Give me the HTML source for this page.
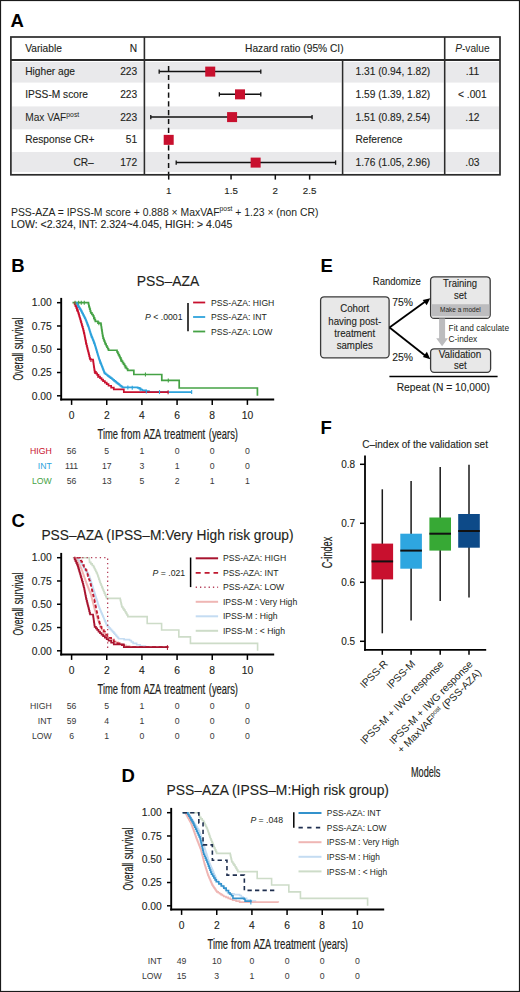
<!DOCTYPE html>
<html><head><meta charset="utf-8"><style>
html,body{margin:0;padding:0;background:#fff;}
svg{display:block;font-family:'Liberation Sans', sans-serif;}
text{paint-order:stroke;}
</style></head><body>
<svg width="520" height="992" viewBox="0 0 520 992">
<rect x="0" y="0" width="520" height="992" fill="#fff"/>
<text x="10.60" y="26.90" font-size="18.5" text-anchor="start" fill="#000" font-weight="bold" >A</text>
<rect x="11.90" y="62.00" width="131.50" height="20.60" fill="#e9e9eb" />
<rect x="145.30" y="62.00" width="196.10" height="20.60" fill="#e9e9eb" />
<rect x="343.80" y="62.00" width="100.00" height="20.60" fill="#e9e9eb" />
<rect x="445.70" y="62.00" width="53.30" height="20.60" fill="#e9e9eb" />
<rect x="11.90" y="106.40" width="131.50" height="22.90" fill="#e9e9eb" />
<rect x="145.30" y="106.40" width="196.10" height="22.90" fill="#e9e9eb" />
<rect x="343.80" y="106.40" width="100.00" height="22.90" fill="#e9e9eb" />
<rect x="445.70" y="106.40" width="53.30" height="22.90" fill="#e9e9eb" />
<rect x="11.90" y="152.00" width="131.50" height="20.00" fill="#e9e9eb" />
<rect x="145.30" y="152.00" width="196.10" height="20.00" fill="#e9e9eb" />
<rect x="343.80" y="152.00" width="100.00" height="20.00" fill="#e9e9eb" />
<rect x="445.70" y="152.00" width="53.30" height="20.00" fill="#e9e9eb" />
<rect x="10.9" y="37.0" width="489.1" height="137.8" fill="none" stroke="#2b2b2b" stroke-width="1.7"/>
<line x1="10.90" y1="60.00" x2="500.00" y2="60.00" stroke="#2b2b2b" stroke-width="1.9" />
<line x1="144.40" y1="37.00" x2="144.40" y2="174.80" stroke="#2b2b2b" stroke-width="1.6" />
<line x1="444.70" y1="37.00" x2="444.70" y2="174.80" stroke="#2b2b2b" stroke-width="1.6" />
<line x1="342.60" y1="60.00" x2="342.60" y2="174.80" stroke="#2b2b2b" stroke-width="1.6" />
<text x="25.20" y="51.60" font-size="10.2" text-anchor="start" fill="#231f20" stroke="#231f20" stroke-width="0.12" >Variable</text>
<text x="137.20" y="51.60" font-size="10.2" text-anchor="end" fill="#231f20" stroke="#231f20" stroke-width="0.12" >N</text>
<text x="294.30" y="51.60" font-size="10.2" text-anchor="middle" fill="#231f20" stroke="#231f20" stroke-width="0.12" >Hazard ratio (95% CI)</text>
<text x="472.4" y="51.6" font-size="10.2" text-anchor="middle" fill="#231f20"><tspan font-style="italic">P</tspan>-value</text>
<line x1="168.60" y1="66.10" x2="168.60" y2="174.00" stroke="#111" stroke-width="1.5" stroke-dasharray="5.2 3.6"/>
<text x="25.20" y="75.20" font-size="10.2" text-anchor="start" fill="#231f20" stroke="#231f20" stroke-width="0.12" >Higher age</text>
<text x="137.20" y="75.20" font-size="10.2" text-anchor="end" fill="#231f20" stroke="#231f20" stroke-width="0.12" >223</text>
<text x="355.50" y="75.20" font-size="10.2" text-anchor="start" fill="#231f20" stroke="#231f20" stroke-width="0.12" >1.31 (0.94, 1.82)</text>
<text x="472.40" y="75.20" font-size="10.2" text-anchor="middle" fill="#231f20" stroke="#231f20" stroke-width="0.12" >.11</text>
<line x1="159.18" y1="71.60" x2="260.80" y2="71.60" stroke="#111" stroke-width="1.5" />
<line x1="159.18" y1="69.40" x2="159.18" y2="73.80" stroke="#111" stroke-width="1.3" />
<line x1="260.80" y1="69.40" x2="260.80" y2="73.80" stroke="#111" stroke-width="1.3" />
<rect x="205.23" y="66.60" width="10.00" height="10.00" fill="#c8102e" />
<text x="25.20" y="97.95" font-size="10.2" text-anchor="start" fill="#231f20" stroke="#231f20" stroke-width="0.12" >IPSS-M score</text>
<text x="137.20" y="97.95" font-size="10.2" text-anchor="end" fill="#231f20" stroke="#231f20" stroke-width="0.12" >223</text>
<text x="355.50" y="97.95" font-size="10.2" text-anchor="start" fill="#231f20" stroke="#231f20" stroke-width="0.12" >1.59 (1.39, 1.82)</text>
<text x="472.40" y="97.95" font-size="10.2" text-anchor="middle" fill="#231f20" stroke="#231f20" stroke-width="0.12" >&lt; .001</text>
<line x1="219.35" y1="94.35" x2="260.80" y2="94.35" stroke="#111" stroke-width="1.5" />
<line x1="219.35" y1="92.15" x2="219.35" y2="96.55" stroke="#111" stroke-width="1.3" />
<line x1="260.80" y1="92.15" x2="260.80" y2="96.55" stroke="#111" stroke-width="1.3" />
<rect x="235.02" y="89.35" width="10.00" height="10.00" fill="#c8102e" />
<text x="25.2" y="120.70" font-size="10.2" fill="#231f20">Max VAF<tspan font-size="6.8" dy="-4.2">post</tspan></text>
<text x="137.20" y="120.70" font-size="10.2" text-anchor="end" fill="#231f20" stroke="#231f20" stroke-width="0.12" >223</text>
<text x="355.50" y="120.70" font-size="10.2" text-anchor="start" fill="#231f20" stroke="#231f20" stroke-width="0.12" >1.51 (0.89, 2.54)</text>
<text x="472.40" y="120.70" font-size="10.2" text-anchor="middle" fill="#231f20" stroke="#231f20" stroke-width="0.12" >.12</text>
<line x1="150.78" y1="117.10" x2="312.07" y2="117.10" stroke="#111" stroke-width="1.5" />
<line x1="150.78" y1="114.90" x2="150.78" y2="119.30" stroke="#111" stroke-width="1.3" />
<line x1="312.07" y1="114.90" x2="312.07" y2="119.30" stroke="#111" stroke-width="1.3" />
<rect x="227.08" y="112.10" width="10.00" height="10.00" fill="#c8102e" />
<text x="25.20" y="143.45" font-size="10.2" text-anchor="start" fill="#231f20" stroke="#231f20" stroke-width="0.12" >Response CR+</text>
<text x="137.20" y="143.45" font-size="10.2" text-anchor="end" fill="#231f20" stroke="#231f20" stroke-width="0.12" >51</text>
<text x="355.50" y="143.45" font-size="10.2" text-anchor="start" fill="#231f20" stroke="#231f20" stroke-width="0.12" >Reference</text>
<rect x="163.70" y="134.85" width="10.00" height="10.00" fill="#c8102e" />
<text x="93.80" y="166.20" font-size="10.2" text-anchor="end" fill="#231f20" stroke="#231f20" stroke-width="0.12" >CR–</text>
<text x="137.20" y="166.20" font-size="10.2" text-anchor="end" fill="#231f20" stroke="#231f20" stroke-width="0.12" >172</text>
<text x="355.50" y="166.20" font-size="10.2" text-anchor="start" fill="#231f20" stroke="#231f20" stroke-width="0.12" >1.76 (1.05, 2.96)</text>
<text x="472.40" y="166.20" font-size="10.2" text-anchor="middle" fill="#231f20" stroke="#231f20" stroke-width="0.12" >.03</text>
<line x1="176.20" y1="162.60" x2="335.60" y2="162.60" stroke="#111" stroke-width="1.5" />
<line x1="176.20" y1="160.40" x2="176.20" y2="164.80" stroke="#111" stroke-width="1.3" />
<line x1="335.60" y1="160.40" x2="335.60" y2="164.80" stroke="#111" stroke-width="1.3" />
<rect x="250.65" y="157.60" width="10.00" height="10.00" fill="#c8102e" />
<line x1="168.70" y1="174.80" x2="168.70" y2="179.60" stroke="#111" stroke-width="1.5" />
<text x="168.70" y="193.80" font-size="9.8" text-anchor="middle" fill="#231f20" stroke="#231f20" stroke-width="0.12" >1</text>
<line x1="231.06" y1="174.80" x2="231.06" y2="179.60" stroke="#111" stroke-width="1.5" />
<text x="231.06" y="193.80" font-size="9.8" text-anchor="middle" fill="#231f20" stroke="#231f20" stroke-width="0.12" >1.5</text>
<line x1="275.31" y1="174.80" x2="275.31" y2="179.60" stroke="#111" stroke-width="1.5" />
<text x="275.31" y="193.80" font-size="9.8" text-anchor="middle" fill="#231f20" stroke="#231f20" stroke-width="0.12" >2</text>
<line x1="309.63" y1="174.80" x2="309.63" y2="179.60" stroke="#111" stroke-width="1.5" />
<text x="309.63" y="193.80" font-size="9.8" text-anchor="middle" fill="#231f20" stroke="#231f20" stroke-width="0.12" >2.5</text>
<text x="11.0" y="215.5" font-size="10.4" fill="#231f20">PSS-AZA = IPSS-M score + 0.888 × MaxVAF<tspan font-size="6.8" dy="-4.2">post</tspan><tspan dy="4.2"> + 1.23 × (non CR)</tspan></text>
<text x="11.00" y="228.10" font-size="10.5" text-anchor="start" fill="#231f20" stroke="#231f20" stroke-width="0.12" >LOW: &lt;2.324, INT: 2.324~4.045, HIGH: &gt; 4.045</text>
<text x="11.20" y="271.60" font-size="18.5" text-anchor="start" fill="#000" font-weight="bold" >B</text>
<text x="168.10" y="285.80" font-size="13.9" text-anchor="middle" fill="#231f20" stroke="#231f20" stroke-width="0.12" >PSS–AZA</text>
<line x1="61.20" y1="297.90" x2="61.20" y2="400.40" stroke="#000" stroke-width="1.9" />
<line x1="60.25" y1="399.50" x2="274.20" y2="399.50" stroke="#000" stroke-width="1.9" />
<line x1="57.00" y1="395.80" x2="61.20" y2="395.80" stroke="#000" stroke-width="1.5" />
<text x="51.80" y="399.50" font-size="10.3" text-anchor="end" fill="#231f20" stroke="#231f20" stroke-width="0.12" >0.00</text>
<line x1="57.00" y1="372.53" x2="61.20" y2="372.53" stroke="#000" stroke-width="1.5" />
<text x="51.80" y="376.23" font-size="10.3" text-anchor="end" fill="#231f20" stroke="#231f20" stroke-width="0.12" >0.25</text>
<line x1="57.00" y1="349.25" x2="61.20" y2="349.25" stroke="#000" stroke-width="1.5" />
<text x="51.80" y="352.95" font-size="10.3" text-anchor="end" fill="#231f20" stroke="#231f20" stroke-width="0.12" >0.50</text>
<line x1="57.00" y1="325.98" x2="61.20" y2="325.98" stroke="#000" stroke-width="1.5" />
<text x="51.80" y="329.68" font-size="10.3" text-anchor="end" fill="#231f20" stroke="#231f20" stroke-width="0.12" >0.75</text>
<line x1="57.00" y1="302.70" x2="61.20" y2="302.70" stroke="#000" stroke-width="1.5" />
<text x="51.80" y="306.40" font-size="10.3" text-anchor="end" fill="#231f20" stroke="#231f20" stroke-width="0.12" >1.00</text>
<line x1="71.60" y1="399.50" x2="71.60" y2="404.90" stroke="#000" stroke-width="1.5" />
<text x="71.60" y="419.40" font-size="10.3" text-anchor="middle" fill="#231f20" stroke="#231f20" stroke-width="0.12" >0</text>
<line x1="106.76" y1="399.50" x2="106.76" y2="404.90" stroke="#000" stroke-width="1.5" />
<text x="106.76" y="419.40" font-size="10.3" text-anchor="middle" fill="#231f20" stroke="#231f20" stroke-width="0.12" >2</text>
<line x1="141.92" y1="399.50" x2="141.92" y2="404.90" stroke="#000" stroke-width="1.5" />
<text x="141.92" y="419.40" font-size="10.3" text-anchor="middle" fill="#231f20" stroke="#231f20" stroke-width="0.12" >4</text>
<line x1="177.08" y1="399.50" x2="177.08" y2="404.90" stroke="#000" stroke-width="1.5" />
<text x="177.08" y="419.40" font-size="10.3" text-anchor="middle" fill="#231f20" stroke="#231f20" stroke-width="0.12" >6</text>
<line x1="212.24" y1="399.50" x2="212.24" y2="404.90" stroke="#000" stroke-width="1.5" />
<text x="212.24" y="419.40" font-size="10.3" text-anchor="middle" fill="#231f20" stroke="#231f20" stroke-width="0.12" >8</text>
<line x1="247.40" y1="399.50" x2="247.40" y2="404.90" stroke="#000" stroke-width="1.5" />
<text x="247.40" y="419.40" font-size="10.3" text-anchor="middle" fill="#231f20" stroke="#231f20" stroke-width="0.12" >10</text>
<text x="97.50" y="438.90" font-size="13.8" fill="#231f20" textLength="20.50" lengthAdjust="spacingAndGlyphs" stroke="#231f20" stroke-width="0.2">Time</text>
<text x="121.00" y="438.90" font-size="13.8" fill="#231f20" textLength="19.60" lengthAdjust="spacingAndGlyphs" stroke="#231f20" stroke-width="0.2">from</text>
<text x="143.40" y="438.90" font-size="13.8" fill="#231f20" textLength="17.70" lengthAdjust="spacingAndGlyphs" stroke="#231f20" stroke-width="0.2">AZA</text>
<text x="164.10" y="438.90" font-size="13.8" fill="#231f20" textLength="41.20" lengthAdjust="spacingAndGlyphs" stroke="#231f20" stroke-width="0.2">treatment</text>
<text x="208.80" y="438.90" font-size="13.8" fill="#231f20" textLength="29.20" lengthAdjust="spacingAndGlyphs" stroke="#231f20" stroke-width="0.2">(years)</text>
<text transform="translate(23.00,380.50) rotate(-90)" x="0" y="0" font-size="13.8" fill="#231f20" textLength="27.80" lengthAdjust="spacingAndGlyphs" stroke="#231f20" stroke-width="0.2">Overall</text>
<text transform="translate(23.00,349.40) rotate(-90)" x="0" y="0" font-size="13.8" fill="#231f20" textLength="32.00" lengthAdjust="spacingAndGlyphs" stroke="#231f20" stroke-width="0.2">survival</text>
<path d="M72.48,302.70H88.13H88.48V304.25H88.83V305.80H89.18V307.36H89.71V309.22H90.23V311.08H90.76V312.94H91.90V314.48H93.05V316.01H93.81V317.78H94.57V319.55H95.33V321.32H97.97V323.18H100.78V323.65H101.02V325.20H101.25V326.75H101.49V328.30H101.73V329.89H101.98V331.47H102.22V333.05H102.47V334.63H102.72V336.22H103.07V338.08H103.64V339.61H104.21V341.15H104.78V342.69H105.35V344.22H106.14V345.74H106.94V347.25H107.73V348.76H108.52V350.27H116.25H117.01V351.79H117.78V353.32H118.54V354.84H119.29V356.40H120.03V357.95H120.78V359.51H121.53V361.07H122.52V362.63H123.52V364.18H124.52V365.73H125.57V367.25H126.63V368.77H127.68V370.29H133.83V374.48H161.79V380.44H179.19V387.98H257.42V395.80" fill="none" stroke="#45a245" stroke-width="1.7" stroke-linejoin="miter" />
<path d="M76.17,302.70H76.70V303.58H77.23V304.45H77.75V305.33H78.28V306.20H78.81V307.08H79.34V307.95H79.86V308.83H80.39V309.70H80.92V310.58H81.44V311.45H81.87V312.29H82.30V313.13H82.73V313.97H83.16V314.80H83.59V315.64H84.02V316.48H84.45V317.32H84.88V318.15H85.31V318.99H85.66V319.87H86.02V320.75H86.37V321.63H86.72V322.51H87.07V323.39H87.42V324.27H87.77V325.15H88.13V326.03H88.48V326.91H88.73V327.73H88.98V328.56H89.24V329.39H89.49V330.22H89.75V331.04H90.00V331.87H90.25V332.70H90.51V333.53H90.76V334.35H91.08V335.18H91.41V336.00H91.73V336.82H92.05V337.64H92.37V338.47H92.70V339.29H93.02V340.11H93.34V340.93H93.66V341.76H93.99V342.58H94.31V343.40H94.63V344.22H94.88V345.07H95.14V345.92H95.39V346.77H95.65V347.62H95.90V348.46H96.15V349.31H96.41V350.16H96.66V351.01H96.92V351.86H97.17V352.71H97.42V353.55H97.68V354.40H97.93V355.25H98.18V356.10H98.44V356.95H98.69V357.79H98.95V358.64H99.20V359.49H99.52V360.31H99.84V361.13H100.16V361.96H100.48V362.78H100.80V363.60H101.12V364.42H101.44V365.24H101.77V366.06H102.09V366.88H102.41V367.71H102.73V368.53H103.05V369.35H103.37V370.17H103.69V370.99H104.01V371.81H104.33V372.63H104.65V373.46H105.68V374.23H106.70V375.01H107.73V375.78H108.75V376.56H109.78V377.34H110.80V378.11H111.89V379.00H112.98V379.90H114.07V380.79H115.16V381.69H116.25V382.58H117.28V383.39H118.30V384.19H119.33V385.00H120.36V385.81H121.38V386.61H122.41V387.42H137.70V387.89H139.22V388.69H140.75V389.50H142.27V390.31H145.61V391.19H148.95V392.08H191.85" fill="none" stroke="#2ea3dc" stroke-width="1.7" stroke-linejoin="miter" />
<path d="M73.89,302.70H74.66V304.45H75.43V306.20H76.21V307.95H76.98V309.70H77.75V311.45H78.21V312.96H78.67V314.47H79.12V315.98H79.58V317.48H80.04V318.99H80.50V320.58H80.95V322.16H81.41V323.74H81.87V325.32H82.32V326.91H82.81V328.77H83.29V330.63H83.77V332.49H84.26V334.35H84.58V336.00H84.90V337.64H85.22V339.29H85.55V340.93H85.87V342.58H86.19V344.22H86.62V345.92H87.05V347.62H87.48V349.31H87.91V351.01H88.34V352.71H88.77V354.40H89.20V356.10H89.63V357.79H90.06V359.49H93.05V360.89H93.27V362.44H93.50V364.00H93.73V365.56H93.95V367.11H94.18V368.67H94.40V370.22H94.63V371.78H95.92V373.36H97.21V374.95H98.50V376.53H100.02V378.05H101.54V379.57H103.07V381.09H104.88V382.64H106.70V384.19H108.52V385.75H111.15V387.61H113.79V389.47H123.81V392.17H168.29" fill="none" stroke="#c8102e" stroke-width="1.7" stroke-linejoin="miter" />
<line x1="75.12" y1="300.70" x2="75.12" y2="304.70" stroke="#45a245" stroke-width="1.1" />
<line x1="78.63" y1="300.70" x2="78.63" y2="304.70" stroke="#45a245" stroke-width="1.1" />
<line x1="81.27" y1="300.70" x2="81.27" y2="304.70" stroke="#45a245" stroke-width="1.1" />
<line x1="84.26" y1="300.70" x2="84.26" y2="304.70" stroke="#45a245" stroke-width="1.1" />
<line x1="93.57" y1="315.24" x2="93.57" y2="319.24" stroke="#45a245" stroke-width="1.1" />
<line x1="98.85" y1="321.33" x2="98.85" y2="325.33" stroke="#45a245" stroke-width="1.1" />
<line x1="120.82" y1="357.61" x2="120.82" y2="361.61" stroke="#45a245" stroke-width="1.1" />
<line x1="125.22" y1="364.74" x2="125.22" y2="368.74" stroke="#45a245" stroke-width="1.1" />
<line x1="145.44" y1="372.48" x2="145.44" y2="376.48" stroke="#45a245" stroke-width="1.1" />
<line x1="168.29" y1="378.44" x2="168.29" y2="382.44" stroke="#45a245" stroke-width="1.1" />
<line x1="77.75" y1="303.33" x2="77.75" y2="307.33" stroke="#2ea3dc" stroke-width="1.1" />
<line x1="87.42" y1="322.27" x2="87.42" y2="326.27" stroke="#2ea3dc" stroke-width="1.1" />
<line x1="91.29" y1="333.70" x2="91.29" y2="337.70" stroke="#2ea3dc" stroke-width="1.1" />
<line x1="93.57" y1="339.53" x2="93.57" y2="343.53" stroke="#2ea3dc" stroke-width="1.1" />
<line x1="96.56" y1="348.68" x2="96.56" y2="352.68" stroke="#2ea3dc" stroke-width="1.1" />
<line x1="100.08" y1="359.74" x2="100.08" y2="363.74" stroke="#2ea3dc" stroke-width="1.1" />
<line x1="127.86" y1="385.59" x2="127.86" y2="389.59" stroke="#2ea3dc" stroke-width="1.1" />
<line x1="132.25" y1="385.72" x2="132.25" y2="389.72" stroke="#2ea3dc" stroke-width="1.1" />
<line x1="140.16" y1="387.19" x2="140.16" y2="391.19" stroke="#2ea3dc" stroke-width="1.1" />
<line x1="146.31" y1="389.38" x2="146.31" y2="393.38" stroke="#2ea3dc" stroke-width="1.1" />
<line x1="159.50" y1="390.08" x2="159.50" y2="394.08" stroke="#2ea3dc" stroke-width="1.1" />
<line x1="191.67" y1="390.08" x2="191.67" y2="394.08" stroke="#2ea3dc" stroke-width="1.1" />
<line x1="76.87" y1="307.46" x2="76.87" y2="311.46" stroke="#c8102e" stroke-width="1.1" />
<line x1="83.55" y1="329.65" x2="83.55" y2="333.65" stroke="#c8102e" stroke-width="1.1" />
<line x1="85.66" y1="339.53" x2="85.66" y2="343.53" stroke="#c8102e" stroke-width="1.1" />
<line x1="90.94" y1="357.90" x2="90.94" y2="361.90" stroke="#c8102e" stroke-width="1.1" />
<line x1="94.81" y1="370.00" x2="94.81" y2="374.00" stroke="#c8102e" stroke-width="1.1" />
<line x1="97.97" y1="373.88" x2="97.97" y2="377.88" stroke="#c8102e" stroke-width="1.1" />
<line x1="168.11" y1="390.17" x2="168.11" y2="394.17" stroke="#c8102e" stroke-width="1.1" />
<text x="182.5" y="320.3" font-size="8.7" text-anchor="end" fill="#231f20"><tspan font-style="italic">P</tspan> &lt; .0001</text>
<line x1="188.00" y1="303.00" x2="188.00" y2="331.30" stroke="#000" stroke-width="1.5" />
<line x1="193.10" y1="302.50" x2="205.20" y2="302.50" stroke="#c8102e" stroke-width="1.8" />
<text x="211.10" y="305.60" font-size="8.65" text-anchor="start" fill="#231f20" >PSS-AZA: HIGH</text>
<line x1="193.10" y1="317.00" x2="205.20" y2="317.00" stroke="#2ea3dc" stroke-width="1.8" />
<text x="211.10" y="320.10" font-size="8.65" text-anchor="start" fill="#231f20" >PSS-AZA: INT</text>
<line x1="193.10" y1="331.50" x2="205.20" y2="331.50" stroke="#45a245" stroke-width="1.8" />
<text x="211.10" y="334.60" font-size="8.65" text-anchor="start" fill="#231f20" >PSS-AZA: LOW</text>
<text x="51.80" y="454.40" font-size="8.7" text-anchor="end" fill="#c8102e" >HIGH</text>
<text x="71.60" y="454.40" font-size="8.7" text-anchor="middle" fill="#383838" >56</text>
<text x="106.76" y="454.40" font-size="8.7" text-anchor="middle" fill="#383838" >5</text>
<text x="141.92" y="454.40" font-size="8.7" text-anchor="middle" fill="#383838" >1</text>
<text x="177.08" y="454.40" font-size="8.7" text-anchor="middle" fill="#383838" >0</text>
<text x="212.24" y="454.40" font-size="8.7" text-anchor="middle" fill="#383838" >0</text>
<text x="247.40" y="454.40" font-size="8.7" text-anchor="middle" fill="#383838" >0</text>
<text x="51.80" y="469.00" font-size="8.7" text-anchor="end" fill="#2ea3dc" >INT</text>
<text x="71.60" y="469.00" font-size="8.7" text-anchor="middle" fill="#383838" >111</text>
<text x="106.76" y="469.00" font-size="8.7" text-anchor="middle" fill="#383838" >17</text>
<text x="141.92" y="469.00" font-size="8.7" text-anchor="middle" fill="#383838" >3</text>
<text x="177.08" y="469.00" font-size="8.7" text-anchor="middle" fill="#383838" >1</text>
<text x="212.24" y="469.00" font-size="8.7" text-anchor="middle" fill="#383838" >0</text>
<text x="247.40" y="469.00" font-size="8.7" text-anchor="middle" fill="#383838" >0</text>
<text x="51.80" y="483.60" font-size="8.7" text-anchor="end" fill="#45a245" >LOW</text>
<text x="71.60" y="483.60" font-size="8.7" text-anchor="middle" fill="#383838" >56</text>
<text x="106.76" y="483.60" font-size="8.7" text-anchor="middle" fill="#383838" >13</text>
<text x="141.92" y="483.60" font-size="8.7" text-anchor="middle" fill="#383838" >5</text>
<text x="177.08" y="483.60" font-size="8.7" text-anchor="middle" fill="#383838" >2</text>
<text x="212.24" y="483.60" font-size="8.7" text-anchor="middle" fill="#383838" >1</text>
<text x="247.40" y="483.60" font-size="8.7" text-anchor="middle" fill="#383838" >1</text>
<text x="11.40" y="526.60" font-size="18.5" text-anchor="start" fill="#000" font-weight="bold" >C</text>
<text x="41.40" y="540.40" font-size="13.75" text-anchor="start" fill="#231f20" stroke="#231f20" stroke-width="0.12" >PSS–AZA (IPSS–M:Very High risk group)</text>
<line x1="61.20" y1="552.90" x2="61.20" y2="655.40" stroke="#000" stroke-width="1.9" />
<line x1="60.25" y1="654.50" x2="274.20" y2="654.50" stroke="#000" stroke-width="1.9" />
<line x1="57.00" y1="650.80" x2="61.20" y2="650.80" stroke="#000" stroke-width="1.5" />
<text x="51.80" y="654.50" font-size="10.3" text-anchor="end" fill="#231f20" stroke="#231f20" stroke-width="0.12" >0.00</text>
<line x1="57.00" y1="627.53" x2="61.20" y2="627.53" stroke="#000" stroke-width="1.5" />
<text x="51.80" y="631.23" font-size="10.3" text-anchor="end" fill="#231f20" stroke="#231f20" stroke-width="0.12" >0.25</text>
<line x1="57.00" y1="604.25" x2="61.20" y2="604.25" stroke="#000" stroke-width="1.5" />
<text x="51.80" y="607.95" font-size="10.3" text-anchor="end" fill="#231f20" stroke="#231f20" stroke-width="0.12" >0.50</text>
<line x1="57.00" y1="580.98" x2="61.20" y2="580.98" stroke="#000" stroke-width="1.5" />
<text x="51.80" y="584.68" font-size="10.3" text-anchor="end" fill="#231f20" stroke="#231f20" stroke-width="0.12" >0.75</text>
<line x1="57.00" y1="557.70" x2="61.20" y2="557.70" stroke="#000" stroke-width="1.5" />
<text x="51.80" y="561.40" font-size="10.3" text-anchor="end" fill="#231f20" stroke="#231f20" stroke-width="0.12" >1.00</text>
<line x1="71.60" y1="654.50" x2="71.60" y2="659.90" stroke="#000" stroke-width="1.5" />
<text x="71.60" y="674.40" font-size="10.3" text-anchor="middle" fill="#231f20" stroke="#231f20" stroke-width="0.12" >0</text>
<line x1="106.76" y1="654.50" x2="106.76" y2="659.90" stroke="#000" stroke-width="1.5" />
<text x="106.76" y="674.40" font-size="10.3" text-anchor="middle" fill="#231f20" stroke="#231f20" stroke-width="0.12" >2</text>
<line x1="141.92" y1="654.50" x2="141.92" y2="659.90" stroke="#000" stroke-width="1.5" />
<text x="141.92" y="674.40" font-size="10.3" text-anchor="middle" fill="#231f20" stroke="#231f20" stroke-width="0.12" >4</text>
<line x1="177.08" y1="654.50" x2="177.08" y2="659.90" stroke="#000" stroke-width="1.5" />
<text x="177.08" y="674.40" font-size="10.3" text-anchor="middle" fill="#231f20" stroke="#231f20" stroke-width="0.12" >6</text>
<line x1="212.24" y1="654.50" x2="212.24" y2="659.90" stroke="#000" stroke-width="1.5" />
<text x="212.24" y="674.40" font-size="10.3" text-anchor="middle" fill="#231f20" stroke="#231f20" stroke-width="0.12" >8</text>
<line x1="247.40" y1="654.50" x2="247.40" y2="659.90" stroke="#000" stroke-width="1.5" />
<text x="247.40" y="674.40" font-size="10.3" text-anchor="middle" fill="#231f20" stroke="#231f20" stroke-width="0.12" >10</text>
<text x="97.50" y="693.90" font-size="13.8" fill="#231f20" textLength="20.50" lengthAdjust="spacingAndGlyphs" stroke="#231f20" stroke-width="0.2">Time</text>
<text x="121.00" y="693.90" font-size="13.8" fill="#231f20" textLength="19.60" lengthAdjust="spacingAndGlyphs" stroke="#231f20" stroke-width="0.2">from</text>
<text x="143.40" y="693.90" font-size="13.8" fill="#231f20" textLength="17.70" lengthAdjust="spacingAndGlyphs" stroke="#231f20" stroke-width="0.2">AZA</text>
<text x="164.10" y="693.90" font-size="13.8" fill="#231f20" textLength="41.20" lengthAdjust="spacingAndGlyphs" stroke="#231f20" stroke-width="0.2">treatment</text>
<text x="208.80" y="693.90" font-size="13.8" fill="#231f20" textLength="29.20" lengthAdjust="spacingAndGlyphs" stroke="#231f20" stroke-width="0.2">(years)</text>
<text transform="translate(23.00,635.50) rotate(-90)" x="0" y="0" font-size="13.8" fill="#231f20" textLength="27.80" lengthAdjust="spacingAndGlyphs" stroke="#231f20" stroke-width="0.2">Overall</text>
<text transform="translate(23.00,604.40) rotate(-90)" x="0" y="0" font-size="13.8" fill="#231f20" textLength="32.00" lengthAdjust="spacingAndGlyphs" stroke="#231f20" stroke-width="0.2">survival</text>
<path d="M72.65,557.70H89.18H89.30V559.25H89.41V560.80H89.53V562.36H90.88V563.91H92.23V565.46H93.57V567.01H94.31V568.50H95.05V569.99H95.79V571.48H96.53V572.97H97.27V574.46H97.79V576.01H98.32V577.56H98.85V579.11H99.38V580.66H99.90V582.22H100.43V583.77H101.08V585.32H101.72V586.87H102.36V588.42H103.01V589.97H103.65V591.53H104.30V593.08H105.06V594.85H105.82V596.62H106.58V598.38H119.94H120.27V599.83H120.59V601.27H120.91V602.71H121.23V604.16H121.56V605.60H121.88V607.04H122.93V608.59H123.99V610.15H125.04V611.70H125.98V613.34H126.92V614.99H127.86V616.63H147.19V623.52H161.61V630.04H178.84V636.84H190.44V643.35H257.60V650.80" fill="none" stroke="#cddcc8" stroke-width="1.6" stroke-linejoin="miter" />
<path d="M76.87,557.70H77.75V558.94H78.63V560.18H79.51V561.42H80.39V562.67H81.27V563.91H82.15V565.15H82.85V566.27H83.55V567.38H84.26V568.50H84.96V569.62H85.66V570.73H86.37V571.85H87.07V572.97H87.77V574.09H88.48V575.20H89.18V576.32H89.56V577.52H89.93V578.71H90.31V579.91H90.69V581.11H91.06V582.31H91.44V583.50H91.82V584.70H92.19V585.90H92.57V587.09H92.95V588.29H93.32V589.49H93.70V590.68H94.08V591.88H94.45V593.08H94.82V594.24H95.19V595.41H95.55V596.57H95.92V597.73H96.29V598.90H96.65V600.06H97.02V601.22H97.38V602.39H97.75V603.55H98.12V604.72H98.48V605.88H98.85V607.04H99.34V608.18H99.83V609.32H100.31V610.46H100.80V611.59H101.29V612.73H101.78V613.87H102.27V615.01H102.76V616.15H103.24V617.28H103.75V618.48H104.25V619.68H104.75V620.88H105.25V622.07H105.76V623.27H106.26V624.47H106.76V625.66H107.93V626.90H109.10V628.15H110.28V629.39H111.45V630.63H112.62V631.87H113.79V633.11H114.74V634.23H115.69V635.35H116.64V636.46H117.59V637.58H118.54V638.70H124.08V639.63H129.61V640.56H131.37V641.96H133.13V643.35H136.65V644.75H140.16V646.14H145.44V647.08" fill="none" stroke="#c4dcf2" stroke-width="1.6" stroke-linejoin="miter" />
<path d="M75.12,557.70H75.63V558.63H76.14V559.56H76.65V560.49H77.17V561.42H77.68V562.36H78.19V563.29H78.71V564.22H79.22V565.15H79.73V566.08H80.24V567.01H80.76V567.94H81.27V568.87H81.60V569.80H81.93V570.73H82.26V571.66H82.59V572.60H82.92V573.53H83.25V574.46H83.58V575.39H83.91V576.32H84.24V577.25H84.57V578.18H84.89V579.11H85.22V580.04H85.55V580.98H85.88V581.91H86.21V582.84H86.54V583.77H86.91V584.70H87.28V585.63H87.64V586.56H88.01V587.49H88.37V588.42H88.74V589.35H89.11V590.29H89.47V591.22H89.84V592.15H90.21V593.08H90.57V594.01H90.94V594.94H91.17V595.87H91.41V596.80H91.64V597.73H91.88V598.66H92.11V599.60H92.34V600.53H92.58V601.46H92.81V602.39H93.05V603.32H93.28V604.25H93.52V605.18H93.75V606.11H93.99V607.04H94.22V607.97H94.45V608.90H94.75V609.84H95.04V610.77H95.33V611.70H95.63V612.63H95.92V613.56H96.21V614.49H96.50V615.42H96.80V616.35H97.09V617.28H97.38V618.22H97.68V619.15H97.97V620.08H98.37V621.01H98.77V621.94H99.17V622.87H99.57V623.80H99.97V624.73H100.37V625.66H100.77V626.59H101.17V627.53H101.57V628.46H101.97V629.39H102.36V630.32H102.99V631.25H103.62V632.18H104.25V633.11H104.88V634.04H105.50V634.97H106.13V635.90H106.76V636.84H108.17V637.77H109.57V638.70H110.98V639.63H112.39V640.56H113.79V641.49H115.99V642.42H118.19V643.35H120.38V644.28H122.58V645.21H126.10V646.14H129.61V647.08H168.29V647.54" fill="none" stroke="#efb6b4" stroke-width="1.6" stroke-linejoin="miter" />
<path d="M76.52,557.70H79.34H80.04V559.10H80.74V560.49H81.44V561.89H82.15V563.29H83.03V564.96H83.91V566.64H84.78V568.31H85.66V569.99H86.54V571.66H87.03V573.18H87.51V574.69H87.99V576.20H88.48V577.72H88.96V579.23H89.44V580.74H89.93V582.26H90.41V583.77H90.78V585.31H91.15V586.86H91.52V588.40H91.89V589.95H92.26V591.50H92.63V593.04H92.99V594.59H93.36V596.13H93.73V597.68H94.10V599.22H94.42V600.75H94.74V602.28H95.05V603.80H95.37V605.33H95.68V606.86H96.00V608.38H96.32V609.91H96.63V611.44H96.95V612.96H97.27V614.49H97.66V616.03H98.06V617.56H98.45V619.10H98.85V620.64H99.24V622.17H99.64V623.71H100.04V625.24H100.43V626.78H101.57V628.36H102.72V629.95H103.86V631.53H105.00V633.11H106.17V634.66H107.35V636.21H108.52V637.77H111.15V639.63H113.79V641.49H117.31V643.35H120.82V645.21H126.10V647.17H168.29" fill="none" stroke="#c0182f" stroke-width="1.6" stroke-linejoin="miter" stroke-dasharray="4 2.6"/>
<path d="M73.89,557.70H74.66V559.45H75.43V561.20H76.21V562.95H76.98V564.70H77.75V566.45H78.21V567.96H78.67V569.47H79.12V570.98H79.58V572.48H80.04V573.99H80.50V575.58H80.95V577.16H81.41V578.74H81.87V580.32H82.32V581.91H82.81V583.77H83.29V585.63H83.77V587.49H84.26V589.35H84.58V591.00H84.90V592.64H85.22V594.29H85.55V595.93H85.87V597.58H86.19V599.22H86.62V600.92H87.05V602.62H87.48V604.31H87.91V606.01H88.34V607.71H88.77V609.40H89.20V611.10H89.63V612.79H90.06V614.49H93.05V615.89H93.27V617.44H93.50V619.00H93.73V620.56H93.95V622.11H94.18V623.67H94.40V625.22H94.63V626.78H95.92V628.36H97.21V629.95H98.50V631.53H100.02V633.05H101.54V634.57H103.07V636.09H104.88V637.64H106.70V639.19H108.52V640.75H111.15V642.61H113.79V644.47H123.81V647.17H168.29" fill="none" stroke="#a8142f" stroke-width="1.7" stroke-linejoin="miter" />
<path d="M73.36,557.70H107.64V648.94" fill="none" stroke="#b5405a" stroke-width="1.3" stroke-dasharray="1.3 3.1"/>
<line x1="167.41" y1="645.14" x2="167.41" y2="649.94" stroke="#a8142f" stroke-width="1.0" />
<text x="185.2" y="575.9" font-size="8.7" text-anchor="end" fill="#231f20"><tspan font-style="italic">P</tspan> = .021</text>
<line x1="190.60" y1="557.50" x2="190.60" y2="587.10" stroke="#000" stroke-width="1.5" />
<line x1="195.70" y1="558.30" x2="218.10" y2="558.30" stroke="#a8142f" stroke-width="2.0" />
<text x="222.90" y="561.40" font-size="8.65" text-anchor="start" fill="#231f20" >PSS-AZA: HIGH</text>
<line x1="195.70" y1="572.80" x2="218.10" y2="572.80" stroke="#c0182f" stroke-width="1.8" stroke-dasharray="5 3.9"/>
<text x="222.90" y="575.90" font-size="8.65" text-anchor="start" fill="#231f20" >PSS-AZA: INT</text>
<line x1="195.70" y1="587.30" x2="218.10" y2="587.30" stroke="#b5405a" stroke-width="1.4" stroke-dasharray="1.3 3"/>
<text x="222.90" y="590.40" font-size="8.65" text-anchor="start" fill="#231f20" >PSS-AZA: LOW</text>
<line x1="195.70" y1="601.80" x2="218.10" y2="601.80" stroke="#efb6b4" stroke-width="2.0" />
<text x="222.90" y="604.90" font-size="8.65" text-anchor="start" fill="#231f20" >IPSS-M : Very High</text>
<line x1="195.70" y1="616.30" x2="218.10" y2="616.30" stroke="#c4dcf2" stroke-width="2.0" />
<text x="222.90" y="619.40" font-size="8.65" text-anchor="start" fill="#231f20" >IPSS-M : High</text>
<line x1="195.70" y1="630.80" x2="218.10" y2="630.80" stroke="#cddcc8" stroke-width="2.0" />
<text x="222.90" y="633.90" font-size="8.65" text-anchor="start" fill="#231f20" >IPSS-M : &lt; High</text>
<text x="51.80" y="709.40" font-size="8.7" text-anchor="end" fill="#383838" >HIGH</text>
<text x="71.60" y="709.40" font-size="8.7" text-anchor="middle" fill="#383838" >56</text>
<text x="106.76" y="709.40" font-size="8.7" text-anchor="middle" fill="#383838" >5</text>
<text x="141.92" y="709.40" font-size="8.7" text-anchor="middle" fill="#383838" >1</text>
<text x="177.08" y="709.40" font-size="8.7" text-anchor="middle" fill="#383838" >0</text>
<text x="212.24" y="709.40" font-size="8.7" text-anchor="middle" fill="#383838" >0</text>
<text x="247.40" y="709.40" font-size="8.7" text-anchor="middle" fill="#383838" >0</text>
<text x="51.80" y="724.00" font-size="8.7" text-anchor="end" fill="#383838" >INT</text>
<text x="71.60" y="724.00" font-size="8.7" text-anchor="middle" fill="#383838" >59</text>
<text x="106.76" y="724.00" font-size="8.7" text-anchor="middle" fill="#383838" >4</text>
<text x="141.92" y="724.00" font-size="8.7" text-anchor="middle" fill="#383838" >1</text>
<text x="177.08" y="724.00" font-size="8.7" text-anchor="middle" fill="#383838" >0</text>
<text x="212.24" y="724.00" font-size="8.7" text-anchor="middle" fill="#383838" >0</text>
<text x="247.40" y="724.00" font-size="8.7" text-anchor="middle" fill="#383838" >0</text>
<text x="51.80" y="738.60" font-size="8.7" text-anchor="end" fill="#383838" >LOW</text>
<text x="71.60" y="738.60" font-size="8.7" text-anchor="middle" fill="#383838" >6</text>
<text x="106.76" y="738.60" font-size="8.7" text-anchor="middle" fill="#383838" >1</text>
<text x="141.92" y="738.60" font-size="8.7" text-anchor="middle" fill="#383838" >0</text>
<text x="177.08" y="738.60" font-size="8.7" text-anchor="middle" fill="#383838" >0</text>
<text x="212.24" y="738.60" font-size="8.7" text-anchor="middle" fill="#383838" >0</text>
<text x="247.40" y="738.60" font-size="8.7" text-anchor="middle" fill="#383838" >0</text>
<text x="121.40" y="781.60" font-size="18.5" text-anchor="start" fill="#000" font-weight="bold" >D</text>
<text x="166.60" y="795.20" font-size="13.85" text-anchor="start" fill="#231f20" stroke="#231f20" stroke-width="0.12" >PSS–AZA (IPSS–M:High risk group)</text>
<line x1="171.20" y1="807.90" x2="171.20" y2="910.40" stroke="#000" stroke-width="1.9" />
<line x1="170.25" y1="909.50" x2="384.20" y2="909.50" stroke="#000" stroke-width="1.9" />
<line x1="167.00" y1="905.80" x2="171.20" y2="905.80" stroke="#000" stroke-width="1.5" />
<text x="161.80" y="909.50" font-size="10.3" text-anchor="end" fill="#231f20" stroke="#231f20" stroke-width="0.12" >0.00</text>
<line x1="167.00" y1="882.53" x2="171.20" y2="882.53" stroke="#000" stroke-width="1.5" />
<text x="161.80" y="886.23" font-size="10.3" text-anchor="end" fill="#231f20" stroke="#231f20" stroke-width="0.12" >0.25</text>
<line x1="167.00" y1="859.25" x2="171.20" y2="859.25" stroke="#000" stroke-width="1.5" />
<text x="161.80" y="862.95" font-size="10.3" text-anchor="end" fill="#231f20" stroke="#231f20" stroke-width="0.12" >0.50</text>
<line x1="167.00" y1="835.98" x2="171.20" y2="835.98" stroke="#000" stroke-width="1.5" />
<text x="161.80" y="839.68" font-size="10.3" text-anchor="end" fill="#231f20" stroke="#231f20" stroke-width="0.12" >0.75</text>
<line x1="167.00" y1="812.70" x2="171.20" y2="812.70" stroke="#000" stroke-width="1.5" />
<text x="161.80" y="816.40" font-size="10.3" text-anchor="end" fill="#231f20" stroke="#231f20" stroke-width="0.12" >1.00</text>
<line x1="181.60" y1="909.50" x2="181.60" y2="914.90" stroke="#000" stroke-width="1.5" />
<text x="181.60" y="929.40" font-size="10.3" text-anchor="middle" fill="#231f20" stroke="#231f20" stroke-width="0.12" >0</text>
<line x1="216.76" y1="909.50" x2="216.76" y2="914.90" stroke="#000" stroke-width="1.5" />
<text x="216.76" y="929.40" font-size="10.3" text-anchor="middle" fill="#231f20" stroke="#231f20" stroke-width="0.12" >2</text>
<line x1="251.92" y1="909.50" x2="251.92" y2="914.90" stroke="#000" stroke-width="1.5" />
<text x="251.92" y="929.40" font-size="10.3" text-anchor="middle" fill="#231f20" stroke="#231f20" stroke-width="0.12" >4</text>
<line x1="287.08" y1="909.50" x2="287.08" y2="914.90" stroke="#000" stroke-width="1.5" />
<text x="287.08" y="929.40" font-size="10.3" text-anchor="middle" fill="#231f20" stroke="#231f20" stroke-width="0.12" >6</text>
<line x1="322.24" y1="909.50" x2="322.24" y2="914.90" stroke="#000" stroke-width="1.5" />
<text x="322.24" y="929.40" font-size="10.3" text-anchor="middle" fill="#231f20" stroke="#231f20" stroke-width="0.12" >8</text>
<line x1="357.40" y1="909.50" x2="357.40" y2="914.90" stroke="#000" stroke-width="1.5" />
<text x="357.40" y="929.40" font-size="10.3" text-anchor="middle" fill="#231f20" stroke="#231f20" stroke-width="0.12" >10</text>
<text x="207.50" y="948.90" font-size="13.8" fill="#231f20" textLength="20.50" lengthAdjust="spacingAndGlyphs" stroke="#231f20" stroke-width="0.2">Time</text>
<text x="231.00" y="948.90" font-size="13.8" fill="#231f20" textLength="19.60" lengthAdjust="spacingAndGlyphs" stroke="#231f20" stroke-width="0.2">from</text>
<text x="253.40" y="948.90" font-size="13.8" fill="#231f20" textLength="17.70" lengthAdjust="spacingAndGlyphs" stroke="#231f20" stroke-width="0.2">AZA</text>
<text x="274.10" y="948.90" font-size="13.8" fill="#231f20" textLength="41.20" lengthAdjust="spacingAndGlyphs" stroke="#231f20" stroke-width="0.2">treatment</text>
<text x="318.80" y="948.90" font-size="13.8" fill="#231f20" textLength="29.20" lengthAdjust="spacingAndGlyphs" stroke="#231f20" stroke-width="0.2">(years)</text>
<text transform="translate(133.00,890.50) rotate(-90)" x="0" y="0" font-size="13.8" fill="#231f20" textLength="27.80" lengthAdjust="spacingAndGlyphs" stroke="#231f20" stroke-width="0.2">Overall</text>
<text transform="translate(133.00,859.40) rotate(-90)" x="0" y="0" font-size="13.8" fill="#231f20" textLength="32.00" lengthAdjust="spacingAndGlyphs" stroke="#231f20" stroke-width="0.2">survival</text>
<path d="M182.65,812.70H199.18H199.30V814.25H199.41V815.80H199.53V817.36H200.88V818.91H202.23V820.46H203.57V822.01H204.31V823.50H205.05V824.99H205.79V826.48H206.53V827.97H207.27V829.46H207.79V831.01H208.32V832.56H208.85V834.11H209.38V835.66H209.90V837.22H210.43V838.77H211.08V840.32H211.72V841.87H212.37V843.42H213.01V844.97H213.65V846.53H214.30V848.08H215.06V849.85H215.82V851.62H216.58V853.38H229.94H230.27V854.83H230.59V856.27H230.91V857.71H231.23V859.16H231.56V860.60H231.88V862.04H232.93V863.59H233.99V865.15H235.04V866.70H235.98V868.34H236.92V869.99H237.86V871.63H257.19V878.52H271.61V885.04H288.84V891.84H300.44V898.35H367.60V905.80" fill="none" stroke="#cddcc8" stroke-width="1.6" stroke-linejoin="miter" />
<path d="M186.87,812.70H187.75V813.94H188.63V815.18H189.51V816.42H190.39V817.67H191.27V818.91H192.15V820.15H192.85V821.27H193.55V822.38H194.26V823.50H194.96V824.62H195.66V825.73H196.37V826.85H197.07V827.97H197.77V829.09H198.48V830.20H199.18V831.32H199.56V832.52H199.93V833.71H200.31V834.91H200.69V836.11H201.06V837.31H201.44V838.50H201.82V839.70H202.19V840.90H202.57V842.09H202.95V843.29H203.32V844.49H203.70V845.68H204.08V846.88H204.45V848.08H204.82V849.24H205.19V850.41H205.55V851.57H205.92V852.73H206.29V853.90H206.65V855.06H207.02V856.22H207.38V857.39H207.75V858.55H208.12V859.72H208.48V860.88H208.85V862.04H209.34V863.18H209.83V864.32H210.31V865.46H210.80V866.59H211.29V867.73H211.78V868.87H212.27V870.01H212.76V871.15H213.24V872.28H213.75V873.48H214.25V874.68H214.75V875.88H215.25V877.07H215.76V878.27H216.26V879.47H216.76V880.66H217.93V881.90H219.10V883.15H220.28V884.39H221.45V885.63H222.62V886.87H223.79V888.11H224.74V889.23H225.69V890.35H226.64V891.46H227.59V892.58H228.54V893.70H234.08V894.63H239.61V895.56H241.37V896.96H243.13V898.35H246.65V899.75H250.16V901.14H255.44V902.08" fill="none" stroke="#c4dcf2" stroke-width="1.6" stroke-linejoin="miter" />
<path d="M185.12,812.70H185.63V813.63H186.14V814.56H186.65V815.49H187.17V816.42H187.68V817.36H188.19V818.29H188.71V819.22H189.22V820.15H189.73V821.08H190.24V822.01H190.76V822.94H191.27V823.87H191.60V824.80H191.93V825.73H192.26V826.66H192.59V827.60H192.92V828.53H193.25V829.46H193.58V830.39H193.91V831.32H194.24V832.25H194.57V833.18H194.89V834.11H195.22V835.04H195.55V835.98H195.88V836.91H196.21V837.84H196.54V838.77H196.91V839.70H197.28V840.63H197.64V841.56H198.01V842.49H198.37V843.42H198.74V844.35H199.11V845.29H199.47V846.22H199.84V847.15H200.21V848.08H200.57V849.01H200.94V849.94H201.17V850.87H201.41V851.80H201.64V852.73H201.88V853.66H202.11V854.60H202.34V855.53H202.58V856.46H202.81V857.39H203.05V858.32H203.28V859.25H203.52V860.18H203.75V861.11H203.99V862.04H204.22V862.97H204.45V863.90H204.75V864.84H205.04V865.77H205.33V866.70H205.63V867.63H205.92V868.56H206.21V869.49H206.50V870.42H206.80V871.35H207.09V872.28H207.38V873.22H207.68V874.15H207.97V875.08H208.37V876.01H208.77V876.94H209.17V877.87H209.57V878.80H209.97V879.73H210.37V880.66H210.77V881.59H211.17V882.53H211.57V883.46H211.97V884.39H212.37V885.32H212.99V886.25H213.62V887.18H214.25V888.11H214.88V889.04H215.50V889.97H216.13V890.90H216.76V891.84H218.17V892.77H219.57V893.70H220.98V894.63H222.39V895.56H223.79V896.49H225.99V897.42H228.19V898.35H230.38V899.28H232.58V900.21H236.10V901.14H239.61V902.08H278.29V902.54" fill="none" stroke="#efb6b4" stroke-width="1.6" stroke-linejoin="miter" />
<path d="M182.65,812.70H186.87H187.90V814.48H188.93V816.27H189.95V818.05H190.98V819.84H192.00V821.62H193.03V823.41H193.91V825.33H194.78V827.25H195.66V829.17H196.54V831.09H197.42V833.01H198.30V834.93H199.18V836.85H200.06V838.77H200.52V840.70H200.98V842.63H201.44V844.56H201.90V846.50H202.37V848.43H202.83V850.36H203.29V852.29H203.75V854.22H204.54V856.18H205.33V858.13H206.12V860.09H206.92V862.04H207.68V864.06H208.44V866.08H209.20V868.09H209.96V870.11H210.72V872.13H211.49V874.15H212.67V876.05H213.86V877.96H215.05V879.87H216.23V881.78H218.75V883.89H221.27V886.00H223.79V888.11H226.17V890.44H228.54V892.77H230.03V894.26H231.53V895.75H232.93V898.35H244.18V899.28H245.06V901.14H250.87V902.08" fill="none" stroke="#3392cc" stroke-width="1.6" stroke-linejoin="miter" />
<path d="M182.65,812.70H198.83V822.94H203.05V844.91H212.37V860.27H226.96V875.17H244.36V890.35H276.00" fill="none" stroke="#1f2f4f" stroke-width="1.6" stroke-linejoin="miter" stroke-dasharray="4.3 3.2"/>
<line x1="250.87" y1="899.68" x2="250.87" y2="904.48" stroke="#3392cc" stroke-width="1.0" />
<text x="283.0" y="823.1" font-size="8.7" text-anchor="end" fill="#231f20"><tspan font-style="italic">P</tspan> = .048</text>
<line x1="293.80" y1="812.30" x2="293.80" y2="827.70" stroke="#000" stroke-width="1.5" />
<line x1="298.50" y1="813.00" x2="321.50" y2="813.00" stroke="#3392cc" stroke-width="2.0" />
<text x="326.80" y="816.10" font-size="8.4" text-anchor="start" fill="#231f20" >PSS-AZA: INT</text>
<line x1="298.50" y1="827.60" x2="321.50" y2="827.60" stroke="#1f2f4f" stroke-width="1.8" stroke-dasharray="4.3 4.4"/>
<text x="326.80" y="830.70" font-size="8.4" text-anchor="start" fill="#231f20" >PSS-AZA: LOW</text>
<line x1="298.50" y1="842.20" x2="321.50" y2="842.20" stroke="#efb6b4" stroke-width="2.0" />
<text x="326.80" y="845.30" font-size="8.4" text-anchor="start" fill="#231f20" >IPSS-M : Very High</text>
<line x1="298.50" y1="856.80" x2="321.50" y2="856.80" stroke="#c4dcf2" stroke-width="2.0" />
<text x="326.80" y="859.90" font-size="8.4" text-anchor="start" fill="#231f20" >IPSS-M : High</text>
<line x1="298.50" y1="871.40" x2="321.50" y2="871.40" stroke="#cddcc8" stroke-width="2.0" />
<text x="326.80" y="874.50" font-size="8.4" text-anchor="start" fill="#231f20" >IPSS-M : &lt; High</text>
<text x="161.80" y="964.40" font-size="8.7" text-anchor="end" fill="#383838" >INT</text>
<text x="181.60" y="964.40" font-size="8.7" text-anchor="middle" fill="#383838" >49</text>
<text x="216.76" y="964.40" font-size="8.7" text-anchor="middle" fill="#383838" >10</text>
<text x="251.92" y="964.40" font-size="8.7" text-anchor="middle" fill="#383838" >0</text>
<text x="287.08" y="964.40" font-size="8.7" text-anchor="middle" fill="#383838" >0</text>
<text x="322.24" y="964.40" font-size="8.7" text-anchor="middle" fill="#383838" >0</text>
<text x="357.40" y="964.40" font-size="8.7" text-anchor="middle" fill="#383838" >0</text>
<text x="161.80" y="979.00" font-size="8.7" text-anchor="end" fill="#383838" >LOW</text>
<text x="181.60" y="979.00" font-size="8.7" text-anchor="middle" fill="#383838" >15</text>
<text x="216.76" y="979.00" font-size="8.7" text-anchor="middle" fill="#383838" >3</text>
<text x="251.92" y="979.00" font-size="8.7" text-anchor="middle" fill="#383838" >1</text>
<text x="287.08" y="979.00" font-size="8.7" text-anchor="middle" fill="#383838" >0</text>
<text x="322.24" y="979.00" font-size="8.7" text-anchor="middle" fill="#383838" >0</text>
<text x="357.40" y="979.00" font-size="8.7" text-anchor="middle" fill="#383838" >0</text>
<text x="320.60" y="271.50" font-size="18.5" text-anchor="start" fill="#000" font-weight="bold" >E</text>
<text x="372.80" y="285.40" font-size="10.5" text-anchor="start" fill="#231f20" stroke="#231f20" stroke-width="0.12" textLength="48.1" lengthAdjust="spacingAndGlyphs" >Randomize</text>
<rect x="320.6" y="296.8" width="68.5" height="61.0" rx="3.5" fill="#e8e8e8" stroke="#3a3a3a" stroke-width="1.3"/>
<text x="354.70" y="312.40" font-size="10.5" text-anchor="middle" fill="#231f20" stroke="#231f20" stroke-width="0.12" textLength="29.12" lengthAdjust="spacingAndGlyphs" >Cohort</text>
<text x="354.70" y="324.70" font-size="10.5" text-anchor="middle" fill="#231f20" stroke="#231f20" stroke-width="0.12" textLength="52.84" lengthAdjust="spacingAndGlyphs" >having post-</text>
<text x="354.70" y="337.00" font-size="10.5" text-anchor="middle" fill="#231f20" stroke="#231f20" stroke-width="0.12" textLength="40.97" lengthAdjust="spacingAndGlyphs" >treatment</text>
<text x="354.70" y="349.30" font-size="10.5" text-anchor="middle" fill="#231f20" stroke="#231f20" stroke-width="0.12" textLength="36.12" lengthAdjust="spacingAndGlyphs" >samples</text>
<rect x="430.6" y="276.8" width="59.6" height="41.6" rx="3.5" fill="#e8e8e8" stroke="#3a3a3a" stroke-width="1.3"/>
<rect x="431.50" y="304.20" width="57.80" height="12.00" fill="#bdbdbf" />
<text x="460.00" y="287.20" font-size="10.6" text-anchor="middle" fill="#231f20" stroke="#231f20" stroke-width="0.12" textLength="33.9" lengthAdjust="spacingAndGlyphs" >Training</text>
<text x="460.40" y="298.80" font-size="10.6" text-anchor="middle" fill="#231f20" stroke="#231f20" stroke-width="0.12" textLength="12.7" lengthAdjust="spacingAndGlyphs" >set</text>
<text x="460.40" y="312.00" font-size="7.3" text-anchor="middle" fill="#231f20" textLength="40.7" lengthAdjust="spacingAndGlyphs" >Make a model</text>
<rect x="430.6" y="348.8" width="60.0" height="23.5" rx="3.5" fill="#e8e8e8" stroke="#3a3a3a" stroke-width="1.3"/>
<text x="460.00" y="357.50" font-size="10.4" text-anchor="middle" fill="#231f20" stroke="#231f20" stroke-width="0.12" textLength="42.6" lengthAdjust="spacingAndGlyphs" >Validation</text>
<text x="460.40" y="369.20" font-size="10.4" text-anchor="middle" fill="#231f20" stroke="#231f20" stroke-width="0.12" textLength="12.7" lengthAdjust="spacingAndGlyphs" >set</text>
<path d="M439.1,318.6 H445.1 V338.2 H448.0 L442.1,346.2 L436.2,338.2 H439.1 Z" fill="#bcbcbe"/>
<text x="448.60" y="330.90" font-size="8.3" text-anchor="start" fill="#231f20" >Fit and calculate</text>
<text x="448.60" y="342.00" font-size="8.3" text-anchor="start" fill="#231f20" >C-index</text>
<line x1="389.50" y1="327.50" x2="426.00" y2="300.90" stroke="#000" stroke-width="1.8" />
<line x1="389.50" y1="327.50" x2="426.00" y2="356.30" stroke="#000" stroke-width="1.8" />
<path d="M430.3,298.2 L422.7,299.9 L426.7,305.3 Z" fill="#000"/>
<path d="M430.3,359.2 L426.9,351.8 L422.9,357.0 Z" fill="#000"/>
<text x="392.20" y="306.30" font-size="10.5" text-anchor="start" fill="#231f20" stroke="#231f20" stroke-width="0.12" textLength="20.7" lengthAdjust="spacingAndGlyphs" >75%</text>
<text x="392.20" y="360.70" font-size="10.5" text-anchor="start" fill="#231f20" stroke="#231f20" stroke-width="0.12" textLength="20.7" lengthAdjust="spacingAndGlyphs" >25%</text>
<line x1="389.40" y1="376.50" x2="497.60" y2="376.50" stroke="#000" stroke-width="1.3" />
<text x="396.70" y="390.80" font-size="10.5" text-anchor="start" fill="#231f20" stroke="#231f20" stroke-width="0.12" textLength="93.2" lengthAdjust="spacingAndGlyphs" >Repeat (N = 10,000)</text>
<text x="320.60" y="434.30" font-size="18.5" text-anchor="start" fill="#000" font-weight="bold" >F</text>
<text x="362.30" y="447.70" font-size="10.0" text-anchor="start" fill="#231f20" stroke="#231f20" stroke-width="0.12" >C–index of the validation set</text>
<line x1="365.00" y1="455.40" x2="365.00" y2="650.70" stroke="#000" stroke-width="1.8" />
<line x1="364.10" y1="649.80" x2="486.20" y2="649.80" stroke="#000" stroke-width="1.8" />
<line x1="360.00" y1="464.30" x2="365.00" y2="464.30" stroke="#000" stroke-width="1.5" />
<text x="355.20" y="467.90" font-size="10.0" text-anchor="end" fill="#231f20" stroke="#231f20" stroke-width="0.12" >0.8</text>
<line x1="360.00" y1="523.30" x2="365.00" y2="523.30" stroke="#000" stroke-width="1.5" />
<text x="355.20" y="526.90" font-size="10.0" text-anchor="end" fill="#231f20" stroke="#231f20" stroke-width="0.12" >0.7</text>
<line x1="360.00" y1="582.30" x2="365.00" y2="582.30" stroke="#000" stroke-width="1.5" />
<text x="355.20" y="585.90" font-size="10.0" text-anchor="end" fill="#231f20" stroke="#231f20" stroke-width="0.12" >0.6</text>
<line x1="360.00" y1="641.30" x2="365.00" y2="641.30" stroke="#000" stroke-width="1.5" />
<text x="355.20" y="644.90" font-size="10.0" text-anchor="end" fill="#231f20" stroke="#231f20" stroke-width="0.12" >0.5</text>
<line x1="382.30" y1="489.30" x2="382.30" y2="633.30" stroke="#1a1a1a" stroke-width="1.5" />
<rect x="371.50" y="543.60" width="21.60" height="35.80" fill="#c8102e" />
<line x1="371.50" y1="561.40" x2="393.10" y2="561.40" stroke="#111" stroke-width="2.0" />
<line x1="382.30" y1="649.80" x2="382.30" y2="654.80" stroke="#000" stroke-width="1.5" />
<line x1="411.10" y1="480.90" x2="411.10" y2="620.60" stroke="#1a1a1a" stroke-width="1.5" />
<rect x="400.30" y="533.70" width="21.60" height="35.00" fill="#2ea6e0" />
<line x1="400.30" y1="550.60" x2="421.90" y2="550.60" stroke="#111" stroke-width="2.0" />
<line x1="411.10" y1="649.80" x2="411.10" y2="654.80" stroke="#000" stroke-width="1.5" />
<line x1="440.20" y1="466.90" x2="440.20" y2="601.00" stroke="#1a1a1a" stroke-width="1.5" />
<rect x="429.40" y="517.50" width="21.60" height="33.10" fill="#37a935" />
<line x1="429.40" y1="533.70" x2="451.00" y2="533.70" stroke="#111" stroke-width="2.0" />
<line x1="440.20" y1="649.80" x2="440.20" y2="654.80" stroke="#000" stroke-width="1.5" />
<line x1="469.00" y1="464.80" x2="469.00" y2="597.50" stroke="#1a1a1a" stroke-width="1.5" />
<rect x="458.20" y="514.00" width="21.60" height="33.70" fill="#0d4a88" />
<line x1="458.20" y1="531.00" x2="479.80" y2="531.00" stroke="#111" stroke-width="2.0" />
<line x1="469.00" y1="649.80" x2="469.00" y2="654.80" stroke="#000" stroke-width="1.5" />
<text transform="translate(388.50,664.50) rotate(-45)" x="0" y="0" font-size="10.3" text-anchor="end" fill="#231f20">IPSS-R</text>
<text transform="translate(415.80,664.50) rotate(-45)" x="0" y="0" font-size="10.3" text-anchor="end" fill="#231f20">IPSS-M</text>
<text transform="translate(444.40,665.00) rotate(-45)" x="0" y="0" font-size="10.3" text-anchor="end" fill="#231f20">IPSS-M + IWG response</text>
<text transform="translate(473.40,665.00) rotate(-45)" x="0" y="0" font-size="10.3" text-anchor="end" fill="#231f20">IPSS-M + IWG response</text>
<text transform="translate(482.00,673.40) rotate(-45)" x="0" y="0" font-size="10.3" text-anchor="end" fill="#231f20">+ MaxVAF<tspan font-size="6.5" dy="-4">post</tspan><tspan dy="4"> (PSS-AZA)</tspan></text>
<text transform="translate(332.20,568.30) rotate(-90)" x="0" y="0" font-size="13.8" fill="#231f20" textLength="31.50" lengthAdjust="spacingAndGlyphs" stroke="#231f20" stroke-width="0.2">C-index</text>
<text x="411.00" y="777.10" font-size="13.8" fill="#231f20" textLength="29.40" lengthAdjust="spacingAndGlyphs" stroke="#231f20" stroke-width="0.2">Models</text>
<rect x="0.5" y="0.5" width="519" height="991" fill="none" stroke="#1a1a1a" stroke-width="1.2"/>
</svg>
</body></html>
